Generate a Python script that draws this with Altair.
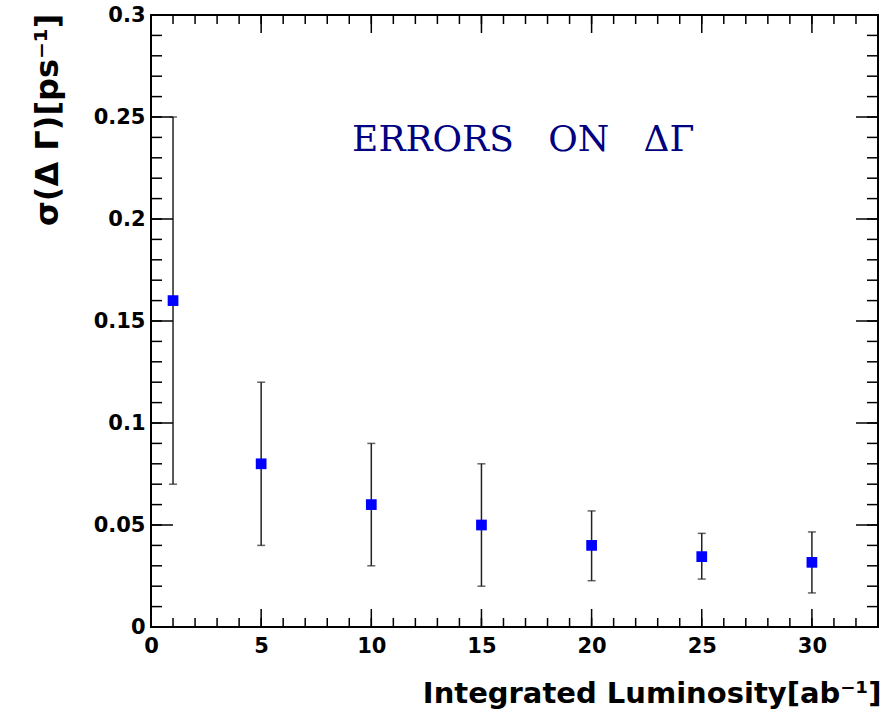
import altair as alt
import pandas as pd

# data
lumi = [1, 5, 10, 15, 20, 25, 30]
sigma = [0.16, 0.08, 0.06, 0.05, 0.04, 0.0345, 0.0317]
err_lo = [0.07, 0.04, 0.03, 0.02, 0.0227, 0.0235, 0.0167]
err_hi = [0.25, 0.12, 0.09, 0.08, 0.0569, 0.0459, 0.0466]

x_major = [0, 5, 10, 15, 20, 25, 30]
x_minor = list(range(0, 34))
y_major = [0, 0.05, 0.1, 0.15, 0.2, 0.25, 0.3]
y_minor = [round(i * 0.01, 2) for i in range(0, 31)]

note_text = ["ERRORS\u00a0\u00a0\u00a0ON\u00a0\u00a0\u00a0ΔΓ"]
note_x = [16.9]
note_y = [0.2385]

W, H = 727, 612

df = pd.DataFrame({"x": lumi, "y": sigma, "lo": err_lo, "hi": err_hi})
xs = alt.Scale(domain=[0, 33], nice=False, zero=False)
ys = alt.Scale(domain=[0, 0.3], nice=False, zero=False)

lab_font = "DejaVu Sans"

xaxis = alt.Axis(values=x_major, format="d", ticks=False, domain=False, grid=False,
                 labelFont=lab_font, labelFontWeight="bold", labelFontSize=21,
                 labelColor="black", labelPadding=8, labelFlush=False,
                 title="Integrated Luminosity[ab⁻¹]", titleFont=lab_font,
                 titleFontWeight="bold", titleFontSize=29, titleColor="black",
                 titleAnchor="end", titleAlign="right", titleX=W + 3, titleY=75,
                 titleBaseline="alphabetic")
yaxis = alt.Axis(values=y_major, format="~g", ticks=False, domain=False, grid=False,
                 labelFont=lab_font, labelFontWeight="bold", labelFontSize=21,
                 labelColor="black", labelPadding=6, labelFlush=False,
                 title="σ(Δ Γ)[ps⁻¹]", titleFont=lab_font,
                 titleFontWeight="bold", titleFontSize=32, titleColor="black",
                 titleAngle=-90, titleAlign="right", titleBaseline="middle",
                 titleX=-104, titleY=-2)

base = alt.Chart(df)

bars = base.mark_rule(color="#222222", strokeWidth=1.5).encode(
    x=alt.X("x:Q", scale=xs, axis=xaxis),
    y=alt.Y("lo:Q", scale=ys, axis=yaxis),
    y2="hi:Q")
cap_lo = base.mark_tick(orient="horizontal", size=8, thickness=1.5, color="#222222").encode(
    x=alt.X("x:Q", scale=xs), y=alt.Y("lo:Q", scale=ys))
cap_hi = base.mark_tick(orient="horizontal", size=8, thickness=1.5, color="#222222").encode(
    x=alt.X("x:Q", scale=xs), y=alt.Y("hi:Q", scale=ys))
pts = base.mark_square(size=115, color="#0000ff", opacity=1).encode(
    x=alt.X("x:Q", scale=xs), y=alt.Y("y:Q", scale=ys))

xmaj = pd.DataFrame({"v": x_major})
xmin = pd.DataFrame({"v": x_minor})
ymaj = pd.DataFrame({"v": y_major})
ymin = pd.DataFrame({"v": y_minor})

def xticks(d, length):
    c = alt.Chart(d)
    bot = c.mark_rule(color="black", strokeWidth=1.5).encode(
        x=alt.X("v:Q", scale=xs), y=alt.value(H), y2=alt.value(H - length))
    top = c.mark_rule(color="black", strokeWidth=1.5).encode(
        x=alt.X("v:Q", scale=xs), y=alt.value(0), y2=alt.value(length))
    return bot + top

def yticks(d, length):
    c = alt.Chart(d)
    lft = c.mark_rule(color="black", strokeWidth=1.5).encode(
        y=alt.Y("v:Q", scale=ys), x=alt.value(0), x2=alt.value(length))
    rgt = c.mark_rule(color="black", strokeWidth=1.5).encode(
        y=alt.Y("v:Q", scale=ys), x=alt.value(W), x2=alt.value(W - length))
    return lft + rgt

note = alt.Chart(pd.DataFrame({"t": note_text, "x": note_x, "y": note_y})).mark_text(
    font="DejaVu Serif", fontSize=36, color="#000080", align="center",
    baseline="middle").encode(
    x=alt.X("x:Q", scale=xs), y=alt.Y("y:Q", scale=ys), text="t:N")

chart = alt.layer(
    bars, xticks(xmin, 9), xticks(xmaj, 18), yticks(ymin, 11), yticks(ymaj, 22),
    cap_lo, cap_hi, pts, note
).properties(
    width=W, height=H,
    autosize=alt.AutoSizeParams(type="none"),
    padding={"left": 151, "top": 15, "right": 11, "bottom": 89},
    background="white",
).configure_view(stroke="black", strokeWidth=2)

chart.save("out.html", embed_options={"renderer": "svg", "actions": False})
